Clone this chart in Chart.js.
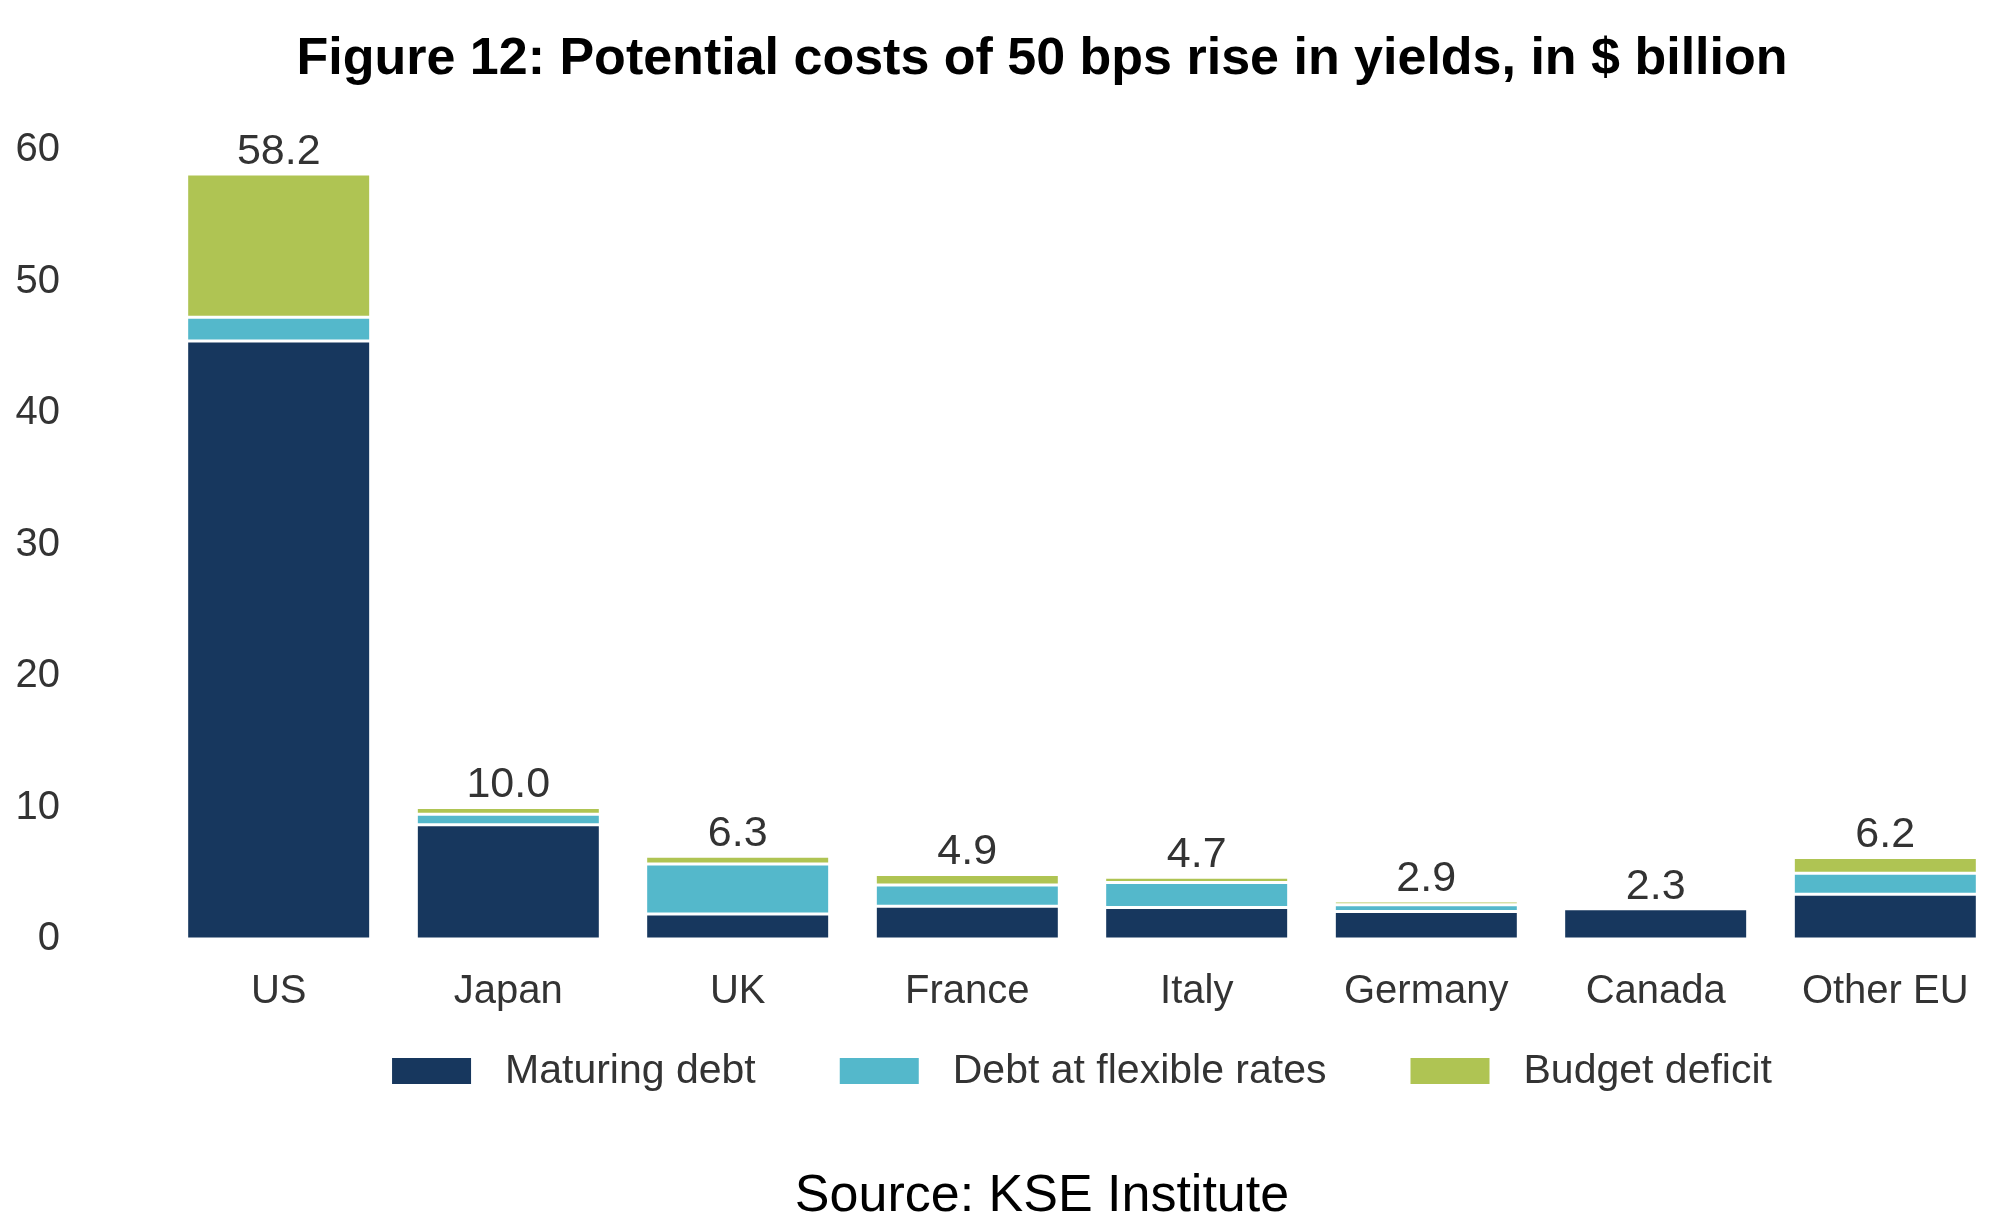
<!DOCTYPE html>
<html>
<head>
<meta charset="utf-8">
<title>Figure 12</title>
<script src="https://cdn.jsdelivr.net/npm/chart.js@4.4.1/dist/chart.umd.min.js"></script>
<style>
    body { margin: 0; background: #fff; }
    .wrap { width: 2000px; height: 1228px; position: relative; }
</style>
</head>
<body>
<div class="wrap"><canvas id="costChart"></canvas></div>
<script>
    // data
    const countries = ['US', 'Japan', 'UK', 'France', 'Italy', 'Germany', 'Canada', 'Other EU'];
    const maturingDebt = [45.5, 8.7, 1.9, 2.5, 2.4, 2.1, 2.3, 3.4];
    const flexibleDebt = [1.8, 0.8, 3.8, 1.6, 1.9, 0.5, 0, 1.6];
    const budgetDeficit = [10.9, 0.5, 0.6, 0.8, 0.4, 0.3, 0, 1.2];
    const totals = [58.2, 10.0, 6.3, 4.9, 4.7, 2.9, 2.3, 6.2];
    const yTicks = [0, 10, 20, 30, 40, 50, 60];

    const titleText = 'Figure 12: Potential costs of 50 bps rise in yields, in $ billion';
    const sourceText = 'Source: KSE Institute';

    const FONT = '"Liberation Sans", Arial, Helvetica, sans-serif';
    const GREY = '#333333';

    function makeSet(label, data, color) {
        return {
            label: label,
            data: data,
            backgroundColor: color,
            borderColor: '#ffffff',
            borderWidth: { top: 1.5, bottom: 1.5, left: 0, right: 0 },
            borderSkipped: false,
            barPercentage: 0.79,
            categoryPercentage: 1.0
        };
    }

    // totals above each stack
    const totalLabels = {
        id: 'totalLabels',
        afterDatasetsDraw(chart) {
            const ctx = chart.ctx;
            const top = chart.getDatasetMeta(chart.data.datasets.length - 1);
            ctx.save();
            ctx.font = '43px ' + FONT;
            ctx.fillStyle = GREY;
            ctx.textAlign = 'center';
            ctx.textBaseline = 'middle';
            top.data.forEach((bar, i) => {
                ctx.fillText(totals[i].toFixed(1), bar.x, bar.y - 22);
            });
            ctx.restore();
        }
    };

    // legend row, title and source line (title block sits right of page centre)
    const frameText = {
        id: 'frameText',
        afterDraw(chart) {
            const ctx = chart.ctx;
            const boxW = 79, boxH = 26, textGap = 34, itemGap = 84;
            const y = chart.scales.x.bottom + 55;
            ctx.save();
            ctx.font = '41px ' + FONT;
            const sets = chart.data.datasets;
            let total = 0;
            sets.forEach((ds, i) => {
                total += boxW + textGap + ctx.measureText(ds.label).width;
                if (i < sets.length - 1) total += itemGap;
            });
            let x = (chart.chartArea.left + chart.chartArea.right) / 2 - total / 2;
            ctx.textBaseline = 'middle';
            ctx.textAlign = 'left';
            sets.forEach(ds => {
                ctx.fillStyle = ds.backgroundColor;
                ctx.fillRect(x, y - boxH / 2, boxW, boxH);
                x += boxW + textGap;
                ctx.fillStyle = GREY;
                ctx.fillText(ds.label, x, y + 1);
                x += ctx.measureText(ds.label).width + itemGap;
            });

            ctx.fillStyle = '#000000';
            ctx.textAlign = 'center';
            ctx.font = 'bold 52px ' + FONT;
            ctx.fillText(titleText, 1042, 60);
            ctx.font = '52px ' + FONT;
            ctx.fillText(sourceText, 1042, 1197);
            ctx.restore();
        }
    };

    const ctx = document.getElementById('costChart').getContext('2d');
    new Chart(ctx, {
        type: 'bar',
        data: {
            labels: countries,
            datasets: [
                makeSet('Maturing debt', maturingDebt, '#17375e'),
                makeSet('Debt at flexible rates', flexibleDebt, '#54b8cb'),
                makeSet('Budget deficit', budgetDeficit, '#afc453')
            ]
        },
        options: {
            responsive: true,
            maintainAspectRatio: false,
            animation: false,
            layout: {
                padding: { left: 16, right: 0, top: 150.4, bottom: 212 }
            },
            plugins: {
                legend: { display: false },
                tooltip: { enabled: false },
                title: { display: false }
            },
            scales: {
                x: {
                    stacked: true,
                    border: { display: false },
                    grid: { display: false, drawTicks: false },
                    afterFit: axis => { axis.height = 77; },
                    ticks: {
                        color: GREY,
                        font: { family: FONT, size: 40 },
                        padding: 29
                    }
                },
                y: {
                    stacked: true,
                    min: 0,
                    max: 60,
                    border: { display: false },
                    grid: { display: false, drawTicks: false },
                    afterBuildTicks: axis => {
                        axis.ticks = yTicks.map(v => ({ value: v }));
                    },
                    afterFit: axis => { axis.width = 148; },
                    ticks: {
                        color: GREY,
                        font: { family: FONT, size: 40 },
                        padding: 104
                    }
                }
            }
        },
        plugins: [totalLabels, frameText]
    });
</script>
</body>
</html>
